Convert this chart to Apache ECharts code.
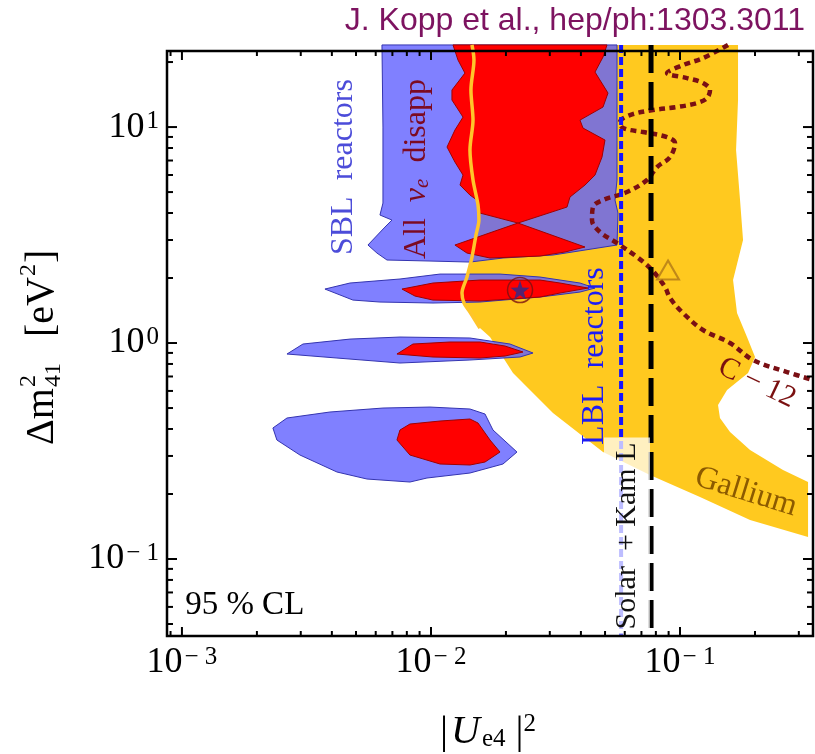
<!DOCTYPE html>
<html><head><meta charset="utf-8">
<script src="https://cdn.jsdelivr.net/npm/echarts@6/dist/echarts.min.js"></script>
<style>html,body{margin:0;padding:0;background:#fff}#c{width:815px;height:754px}</style>
</head><body><div id="c"></div>
<script>
// ---------- axis extents & ticks ----------
const X_MIN = 8.71e-4, X_MAX = 0.342, Y_MIN = 0.044, Y_MAX = 22.5;
const xMajorTicks = [0.001, 0.01, 0.1];
const xMinorTicks = [0.0009, 0.002, 0.003, 0.004, 0.005, 0.006, 0.007, 0.008, 0.009,
  0.02, 0.03, 0.04, 0.05, 0.06, 0.07, 0.08, 0.09, 0.2, 0.3];
const yMajorTicks = [0.1, 1, 10];
const yMinorTicks = [0.05, 0.06, 0.07, 0.08, 0.09, 0.2, 0.3, 0.4, 0.5, 0.6, 0.7, 0.8, 0.9,
  2, 3, 4, 5, 6, 7, 8, 9, 20];
const xLabelValues = [0.001, 0.01, 0.1];
const xLabelExps = ['\u2212 3', '\u2212 2', '\u2212 1'];
const yLabelValues = [0.1, 1, 10];
const yLabelExps = ['\u2212 1', '0', '1'];

// ---------- Gallium region (left edge top->bottom, right edge top->bottom->left) ----------
const galliumLeft = [[0.01461,24],[0.01488,20.43],[0.01447,14.84],[0.01475,10.77],[0.01434,7.826],
  [0.01475,5.684],[0.01545,4.354],[0.01558,3.710],[0.01516,3.162],[0.01461,2.501],[0.01395,2.021],
  [0.01332,1.704],[0.01357,1.532],[0.01434,1.392],[0.01573,1.173],[0.01726,1.066],[0.02135,0.7262]];
const galliumRight = [[0.1710,24],[0.1710,13.34],[0.1679,7.826],[0.1742,4.592],[0.1791,2.999],
  [0.1633,1.957],[0.1694,1.377],[0.1858,1.066],[0.2001,0.8614],[0.1876,0.7262],[0.1545,0.6059],
  [0.1421,0.516],[0.1447,0.4496],[0.1588,0.3873],[0.1911,0.3196],[0.2592,0.2582],[0.3267,0.2272],
  [0.3267,0.1264],[0.1911,0.1515],[0.1203,0.1936],[0.07576,0.2448],[0.04907,0.3128],[0.03090,0.4742]];

// ---------- SBL reactors (blue) ----------
const sblTop = [[0.006356,24],[0.05585,24],[0.05585,5.684],[0.05482,4.592],[0.05636,3.998],
  [0.05585,2.843],[0.03090,2.555],[0.01946,2.475],[0.01434,2.371],[0.009908,2.397],[0.006658,2.423],
  [0.006069,2.610],[0.005584,2.843],[0.006535,3.443],[0.006973,3.710],[0.006240,3.914],
  [0.006415,4.447],[0.006415,10]];
const sblBand1 = [[0.003752,1.778],[0.004728,1.896],[0.007508,1.979],[0.01087,2.086],[0.01893,2.086],
  [0.02741,2.021],[0.03966,1.896],[0.04557,1.797],[0.03966,1.722],[0.02741,1.633],[0.01573,1.548],
  [0.01019,1.532],[0.006240,1.548],[0.004861,1.581]];
const sblBand2 = [[0.002641,0.8894],[0.003062,0.9894],[0.004728,1.043],[0.007508,1.066],[0.01434,1.055],
  [0.02076,0.9894],[0.02569,0.8990],[0.02278,0.8614],[0.01434,0.8344],[0.007508,0.8080],[0.004193,0.8523]];
const sblBand3 = [[0.002319,0.4042],[0.002641,0.4496],[0.003930,0.4793],[0.006415,0.5000],
  [0.009908,0.5053],[0.01434,0.4949],[0.01648,0.4692],[0.01774,0.3956],[0.02215,0.3128],
  [0.01946,0.2753],[0.01434,0.2501],[0.009636,0.2371],[0.008234,0.2272],[0.005534,0.2346],
  [0.004193,0.2528],[0.002978,0.3030],[0.002406,0.3556]];

// ---------- All nu_e disappearance (red) ----------
const allTop = [[0.01226,24],[0.05091,24],[0.04907,21.10],[0.04557,17.97],[0.05138,14.37],
  [0.04907,12.38],[0.03966,10.77],[0.04077,9.894],[0.04998,8.706],[0.04861,7.262],[0.04557,5.995],
  [0.04154,5.389],[0.03615,4.741],[0.03517,4.262],[0.02236,3.594],[0.01573,3.998],[0.01530,4.592],
  [0.01434,4.843],[0.01308,5.389],[0.01345,5.995],[0.01248,6.887],[0.01160,8.081],[0.01248,9.685],
  [0.01345,11.12],[0.01214,13.34],[0.01214,14.84],[0.01369,17.78],[0.01284,20.43]];
const allBowtie = [[0.01248,2.843],[0.02236,3.594],[0.04154,2.783],[0.03453,2.639],[0.02741,2.528],
  [0.01726,2.475],[0.01395,2.610]];
const allBand1 = [[0.007648,1.778],[0.01019,1.896],[0.01573,1.957],[0.02741,1.957],[0.03297,1.896],
  [0.04270,1.797],[0.03297,1.704],[0.02741,1.633],[0.01573,1.565],[0.01019,1.581],[0.008626,1.650]];
const allBand2 = [[0.007302,0.8894],[0.008466,0.9894],[0.01192,1.011],[0.01573,1.011],[0.01982,0.9685],
  [0.02342,0.9085],[0.01982,0.8706],[0.01573,0.8523],[0.01019,0.8614]];
const allBand3 = [[0.007302,0.3556],[0.007508,0.3956],[0.008234,0.4217],[0.01087,0.4354],
  [0.01434,0.4448],[0.01545,0.4262],[0.01726,0.3556],[0.01893,0.3128],[0.01648,0.2812],
  [0.01434,0.2724],[0.01087,0.2753],[0.008234,0.3030]];

// ---------- C-12 curve, vertical limits, best fits ----------
const c12Curve = [[0.1559,24],[0.1237,20.86],[0.1028,19.36],[0.08869,17.78],[0.1067,16.86],
  [0.1237,15.99],[0.1320,14.84],[0.1284,13.62],[0.1170,12.92],[0.09727,12.38],[0.07791,11.99],
  [0.06299,11.36],[0.05741,10.55],[0.05905,9.894],[0.07104,9.482],[0.08869,8.990],[0.09548,8.433],
  [0.09118,7.262],[0.08083,6.527],[0.07368,5.684],[0.06125,5.002],[0.04907,4.592],[0.04472,4.262],
  [0.04432,3.710],[0.04772,3.266],[0.05585,2.904],[0.06722,2.501],[0.07718,2.178],[0.08707,1.816],
  [0.09118,1.616],[0.1028,1.377],[0.1237,1.149],[0.1588,1.000],[0.1964,0.8344],[0.2690,0.7340],
  [0.342,0.6742]];
const lblLimit = [[0.0580,24],[0.0580,0.044]];
const solarKamLLimit = [[0.0765,24],[0.0765,0.044]];
const bestFit = [[0.02278,1.759]];
const c12Point = [[0.08951,2.178]];

// ---------- annotations ----------
const labelTexts = ['SBL  reactors', '{a|All}  {g|\u03bd}{e|e}  {a|disapp}', 'LBL  reactors',
  'Solar  + Kam L', 'C \u2212 12', 'Gallium', '95 % CL'];
const labelAnchors = [[0.004473,6.527],[0.008786,6.392],[0.04557,0.8706],[0.06125,0.1278],
  [0.2037,0.6531],[0.1841,0.2041],[0.00103,0.0612]];

const SERIF = '"Liberation Serif", "DejaVu Serif", serif';
const labelStyles = [
  {fill:'#4c4cd9', fontSize:32, rotation:Math.PI/2, align:'center'},
  {fill:'#7c0a22', fontSize:32, rotation:Math.PI/2, align:'center'},
  {fill:'#1c1cf5', fontSize:32, rotation:Math.PI/2, align:'center'},
  {fill:'#111111', fontSize:30, rotation:Math.PI/2, align:'center', backgroundColor:'rgba(255,255,255,0.72)', padding:[8,5,8,5]},
  {fill:'#7a1010', fontSize:30, rotation:-0.44, align:'center'},
  {fill:'#8c5a00', fontSize:32, rotation:-0.30, align:'center'},
  {fill:'#000000', fontSize:33, rotation:0, align:'left'}
];

function polySeries(pts, fill, stroke, z) {
  return {
    type:'custom', coordinateSystem:'cartesian2d', z:z, silent:true, clip:false, data:pts,
    renderItem:function(params, api){
      if (params.dataIndex !== 0) return null;
      return {type:'polygon', shape:{points:pts.map(p => api.coord(p))},
        style:{fill:fill, stroke:stroke, lineWidth:stroke ? 1 : 0}};
    }
  };
}
const BLUE = 'rgba(96,96,255,0.8)', BLUE_E = '#3434b0', RED = '#ff0000', RED_E = '#a00000';
const galliumPoly = galliumLeft.concat(galliumRight.slice().reverse());
const tickRich = {b:{fontSize:36, fontFamily:SERIF, color:'#000'},
  s:{fontSize:25, fontFamily:SERIF, color:'#000', verticalAlign:'top', padding:[0,0,0,2]}};

const chart = echarts.init(document.getElementById('c'));
const option = {
  animation:false,
  backgroundColor:'#fff',
  grid:{left:167, top:51, width:646, height:585, containLabel:false},
  xAxis:{type:'log', logBase:10, min:X_MIN, max:X_MAX,
    axisLine:{show:false}, axisTick:{show:false}, splitLine:{show:false},
    axisLabel:{margin:9, showMinLabel:false, showMaxLabel:false,
      formatter:function(v){
        for (let i=0;i<xLabelValues.length;i++) if (Math.abs(Math.log10(v/xLabelValues[i]))<1e-6) return '{b|10}{s|'+xLabelExps[i]+'}';
        return '';
      },
      rich:tickRich
    }},
  yAxis:{type:'log', logBase:10, min:Y_MIN, max:Y_MAX,
    axisLine:{show:false}, axisTick:{show:false}, splitLine:{show:false},
    axisLabel:{margin:8, showMinLabel:false, showMaxLabel:false,
      formatter:function(v){
        for (let i=0;i<yLabelValues.length;i++) if (Math.abs(Math.log10(v/yLabelValues[i]))<1e-6) return '{b|10}{s|'+yLabelExps[i]+'}';
        return '';
      },
      rich:tickRich
    }},
  graphic:[
    {type:'text', right:10, top:5, style:{text:'J. Kopp et al., hep/ph:1303.3011', fontSize:32, fontFamily:'"Liberation Sans", Arial, sans-serif', fill:'#7d1360'}},
    {type:'group', x:42, y:346, rotation:Math.PI/2, children:[
      {type:'text', x:-99, y:0, style:{text:'\u0394m', fontSize:40, fontFamily:SERIF, fill:'#000', verticalAlign:'middle'}},
      {type:'text', x:-41, y:-13, style:{text:'2', fontSize:24, fontFamily:SERIF, fill:'#000', verticalAlign:'middle'}},
      {type:'text', x:-41, y:12, style:{text:'41', fontSize:24, fontFamily:SERIF, fill:'#000', verticalAlign:'middle'}},
      {type:'text', x:9, y:0, style:{text:'[eV', fontSize:40, fontFamily:SERIF, fill:'#000', verticalAlign:'middle'}},
      {type:'text', x:70, y:-13, style:{text:'2', fontSize:24, fontFamily:SERIF, fill:'#000', verticalAlign:'middle'}},
      {type:'text', x:83, y:0, style:{text:']', fontSize:40, fontFamily:SERIF, fill:'#000', verticalAlign:'middle'}}
    ]},
    {type:'text', x:488, y:732, style:{text:'{n||}{u|U}{s|e4}{n| |}{p|2}', align:'center', verticalAlign:'middle', fontSize:40, fontFamily:SERIF, fill:'#000',
      rich:{n:{fontSize:40, fontFamily:SERIF}, u:{fontSize:40, fontFamily:SERIF, fontStyle:'italic', padding:[0,2,0,3]}, s:{fontSize:25, fontFamily:SERIF, verticalAlign:'bottom'}, p:{fontSize:25, fontFamily:SERIF, verticalAlign:'top'}}}}
  ],
  series:[
    polySeries(galliumPoly, '#ffc91f', null, 1),
    polySeries(sblTop, BLUE, BLUE_E, 2),
    polySeries(sblBand1, BLUE, BLUE_E, 2),
    polySeries(sblBand2, BLUE, BLUE_E, 2),
    polySeries(sblBand3, BLUE, BLUE_E, 2),
    polySeries(allTop, RED, RED_E, 3),
    polySeries(allBowtie, RED, RED_E, 3),
    polySeries(allBand1, RED, RED_E, 3),
    polySeries(allBand2, RED, RED_E, 3),
    polySeries(allBand3, RED, RED_E, 3),
    {type:'line', data:galliumLeft.slice(0,15), z:4, clip:false, showSymbol:false, symbol:'none', smooth:0.3, silent:true,
      lineStyle:{color:'#ffc52a', width:3.5}},
    {type:'line', data:c12Curve, z:5, clip:false, showSymbol:false, symbol:'none', smooth:0.35, silent:true,
      lineStyle:{color:'#7a0f14', width:4.5, type:[6,4.5]}},
    {type:'line', data:lblLimit, z:5, clip:false, showSymbol:false, symbol:'none', silent:true,
      lineStyle:{color:'#1414ff', width:4, type:[8,4]}},
    {type:'line', data:solarKamLLimit, z:5, clip:false, showSymbol:false, symbol:'none', silent:true,
      lineStyle:{color:'#000', width:5, type:[28,9]}},
    {type:'custom', coordinateSystem:'cartesian2d', z:6, silent:true, clip:false, data:labelAnchors,
      renderItem:function(params, api){
        const i = params.dataIndex, s = labelStyles[i], p = api.coord(labelAnchors[i]);
        const style = {text:labelTexts[i], fill:s.fill, fontSize:s.fontSize, fontFamily:SERIF,
          align:s.align, verticalAlign:'middle'};
        if (s.backgroundColor) { style.backgroundColor = s.backgroundColor; style.padding = s.padding; }
        if (i === 1) style.rich = {a:{fontSize:32, fontFamily:SERIF, color:s.fill},
          g:{fontSize:32, fontFamily:SERIF, fontStyle:'italic', color:s.fill},
          e:{fontSize:21, fontFamily:SERIF, fontStyle:'italic', color:s.fill, verticalAlign:'bottom'}};
        return {type:'text', x:p[0], y:p[1], rotation:s.rotation, style:style};
      }},
    {type:'scatter', data:bestFit, z:7, silent:true, symbol:'circle', symbolSize:25,
      itemStyle:{color:'rgba(0,0,0,0)', borderColor:'#7a1010', borderWidth:1.5}},
    {type:'scatter', data:bestFit, z:8, silent:true, symbolSize:19,
      symbol:'path://M12,0 L14.9,8.4 L23.8,8.6 L16.7,14 L19.3,22.6 L12,17.5 L4.7,22.6 L7.3,14 L0.2,8.6 L9.1,8.4 Z',
      itemStyle:{color:'#2b2b8c'}},
    {type:'scatter', data:c12Point, z:7, silent:true, symbol:'triangle', symbolSize:[22,19],
      itemStyle:{color:'rgba(0,0,0,0)', borderColor:'#b07818', borderWidth:2}},
    {type:'custom', coordinateSystem:'cartesian2d', z:10, silent:true, clip:false, data:[[X_MIN, Y_MIN]],
      renderItem:function(params, api){
        if (params.dataIndex !== 0) return null;
        const tl = api.coord([X_MIN, Y_MAX]), br = api.coord([X_MAX, Y_MIN]);
        const ch = [];
        const L = (x1,y1,x2,y2) => ch.push({type:'line', shape:{x1,y1,x2,y2}, style:{stroke:'#000', lineWidth:2}});
        const xt = (v, len) => { const x = api.coord([v, Y_MIN])[0]; L(x, br[1], x, br[1]-len); L(x, tl[1], x, tl[1]+len); };
        const yt = (v, len) => { const y = api.coord([X_MIN, v])[1]; L(tl[0], y, tl[0]+len, y); L(br[0], y, br[0]-len, y); };
        xMajorTicks.forEach(v => xt(v, 9)); xMinorTicks.forEach(v => xt(v, 5));
        yMajorTicks.forEach(v => yt(v, 10)); yMinorTicks.forEach(v => yt(v, 6));
        ch.push({type:'rect', shape:{x:tl[0], y:tl[1], width:br[0]-tl[0], height:br[1]-tl[1]},
          style:{fill:'none', stroke:'#000', lineWidth:2.5}});
        return {type:'group', children:ch};
      }}
  ]
};
chart.setOption(option);
</script></body></html>
